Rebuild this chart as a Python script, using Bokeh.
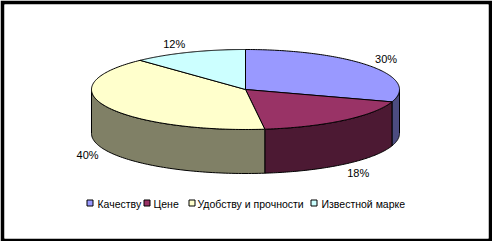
import numpy as np
from bokeh.plotting import figure
from bokeh.core.properties import value
from bokeh.embed import file_html
from bokeh.resources import INLINE

# ---- data ----
categories = ["Качеству", "Цене", "Удобству и прочности", "Известной марке"]
values = [30, 18, 40, 12]
top_colors = ["#9999FF", "#993366", "#FFFFCC", "#CCFFFF"]
side_colors = ["#4C4C80", "#4C1933", "#808066", "#668080"]

# ---- layout ----
W, H = 492, 241
cx, cy, rx, ry, depth = 245.0, 89.0, 154.0, 40.0, 44.0
lbl_rx, lbl_ry = 180.0, 50.0
lbl_nudge = [(-5, -1), (-2, 1), (5, 0), (-5, 1)]
FONT = "Liberation Sans"

p = figure(width=W, height=H, x_range=(4, 488), y_range=(238, 4),
           output_backend="svg", toolbar_location=None,
           min_border_left=4, min_border_right=4, min_border_top=4, min_border_bottom=3,
           border_fill_color="black", background_fill_color="white",
           outline_line_color=None)
p.xaxis.visible = False
p.yaxis.visible = False
p.grid.visible = False


def pt(theta, dy=0.0):
    return cx + rx * np.sin(theta), cy - ry * np.cos(theta) + dy


total = float(sum(values))
fracs = np.array(values) / total
ends = np.cumsum(fracs) * 2 * np.pi
starts = ends - fracs * 2 * np.pi

# side walls (front half: theta in [pi/2, 3pi/2])
sx, sy, sc = [], [], []
for a0, a1, col in zip(starts, ends, side_colors):
    lo, hi = max(a0, np.pi / 2), min(a1, 3 * np.pi / 2)
    if hi <= lo:
        continue
    th = np.linspace(lo, hi, 80)
    tx, ty = pt(th)
    bx, by = pt(th[::-1], depth)
    sx.append(list(tx) + list(bx))
    sy.append(list(ty) + list(by))
    sc.append(col)
p.patches(xs=sx, ys=sy, fill_color=sc, line_color="black", line_width=1)

# top wedges
wx, wy = [], []
for a0, a1 in zip(starts, ends):
    th = np.linspace(a0, a1, 120)
    tx, ty = pt(th)
    wx.append([cx] + list(tx))
    wy.append([cy] + list(ty))
p.patches(xs=wx, ys=wy, fill_color=top_colors, line_color="black", line_width=1)

# percentage labels
lx, ly, lt = [], [], []
for a0, a1, v, (ndx, ndy) in zip(starts, ends, values, lbl_nudge):
    m = (a0 + a1) / 2
    x = cx + lbl_rx * np.sin(m) + ndx
    y = cy - lbl_ry * np.cos(m) + (depth if np.cos(m) < 0 else 0) + ndy
    lx.append(x); ly.append(y); lt.append(f"{v}%")
p.text(x=lx, y=ly, text=lt, text_font=value(FONT), text_font_size="11px",
       text_align="center", text_baseline="middle", text_color="black")

# legend
leg_sq_x = [89.5, 146.5, 191.5, 313.5]
leg_txt_x = [97, 153, 197, 321]
leg_y = 202.5
p.rect(x=leg_sq_x, y=[leg_y] * 4, width=6, height=6, fill_color=top_colors,
       line_color="black", line_width=1)
p.text(x=leg_txt_x, y=[leg_y + 0.5] * 4, text=categories,
       text_font=value(FONT), text_font_size="10.5px", text_align="left",
       text_baseline="middle", text_color="black")

open("out.html", "w").write(file_html(p, INLINE))
